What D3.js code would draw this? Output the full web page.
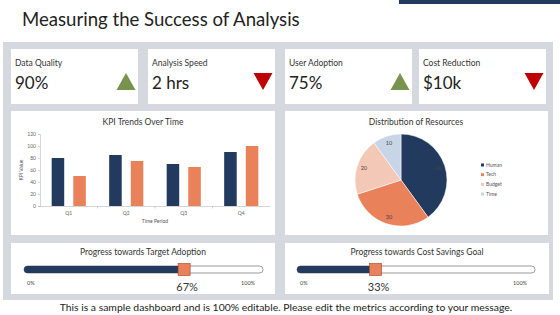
<!DOCTYPE html>
<html>
<head>
<meta charset="utf-8">
<script src="https://cdn.jsdelivr.net/npm/d3@7"></script>
<style>
  body { margin: 0; background: #fff; }
  text { font-family: "Lato", "DejaVu Sans", sans-serif; }
</style>
</head>
<body>
<div id="chart"></div>
<script>
const kpiNames = ["Data Quality", "Analysis Speed", "User Adoption", "Cost Reduction"];
const kpiValues = ["90%", "2 hrs", "75%", "$10k"];
const kpiTrend = ["up", "down", "up", "down"];

const quarters = ["Q1", "Q2", "Q3", "Q4"];
const seriesNames = ["Series 1", "Series 2"];
const series1 = [80, 85, 70, 90];
const series2 = [50, 75, 65, 100];
const yTicks = [0, 20, 40, 60, 80, 100, 120];

const resources = ["Human", "Tech", "Budget", "Time"];
const resourceShares = [40, 30, 20, 10];

const progressTitles = ["Progress towards Target Adoption", "Progress towards Cost Savings Goal"];
const progressValues = [67, 33];

const navy = "#223a5e";
const orange = "#e9825b";
const pieColors = [navy, orange, "#f4c8b6", "#c7d5e7"];

const width = 560, height = 315;
const svg = d3.select("#chart").append("svg")
    .attr("width", width)
    .attr("height", height);

// header
svg.append("rect").attr("x", 399).attr("y", 0).attr("width", 161).attr("height", 4).attr("fill", navy);
svg.append("text")
    .attr("x", 22).attr("y", 26)
    .attr("font-size", 18.6)
    .attr("fill", "#222")
    .text("Measuring the Success of Analysis");

// gray panel
svg.append("rect").attr("x", 3).attr("y", 42).attr("width", 550).attr("height", 258).attr("fill", "#d5d9df");

// KPI cards
const cardX = [11, 148, 285, 419];
const cardW = 127;
kpiNames.forEach((name, i) => {
    const g = svg.append("g").attr("transform", `translate(${cardX[i]},49)`);
    g.append("rect").attr("width", cardW).attr("height", 55).attr("fill", "#fff");
    g.append("text").attr("x", 4).attr("y", 17).attr("font-size", 8.5).attr("fill", "#333").text(name);
    g.append("text").attr("x", 4).attr("y", 40).attr("font-size", 17).attr("fill", "#222").text(kpiValues[i]);
    const cx = cardW - 12, top = 24, bot = 41, hw = 9.5;
    const pts = kpiTrend[i] === "up"
        ? [[cx, top], [cx + hw, bot], [cx - hw, bot]]
        : [[cx - hw, top], [cx + hw, top], [cx, bot]];
    g.append("path")
        .attr("d", d3.line()(pts) + "Z")
        .attr("fill", kpiTrend[i] === "up" ? "#77934d" : "#c00000");
});

// chart cards
svg.append("rect").attr("x", 11).attr("y", 111).attr("width", 264).attr("height", 124).attr("fill", "#fff");
svg.append("rect").attr("x", 285).attr("y", 111).attr("width", 263).attr("height", 124).attr("fill", "#fff");

// bar chart
const bar = svg.append("g");
bar.append("text").attr("x", 143).attr("y", 125).attr("text-anchor", "middle")
    .attr("font-size", 8.5).attr("fill", "#333").text("KPI Trends Over Time");

const x0 = d3.scaleBand().domain(quarters).range([40, 270]).padding(0);
const x1 = d3.scaleBand().domain(seriesNames).range([0, x0.bandwidth()]).paddingInner(0.42).paddingOuter(0.54);
const y = d3.scaleLinear().domain([0, 120]).range([206, 134]);

const yAxis = bar.append("g").attr("transform", "translate(40,0)")
    .call(d3.axisLeft(y).tickValues(yTicks).tickSize(2).tickPadding(2));
yAxis.selectAll("text").attr("font-size", 5).attr("fill", "#666");
yAxis.selectAll("line, path").attr("stroke", "#bbb").attr("stroke-width", 0.6);

const xAxis = bar.append("g").attr("transform", "translate(0,206)")
    .call(d3.axisBottom(x0).tickSize(0).tickPadding(5));
xAxis.selectAll("text").attr("font-size", 5).attr("fill", "#666");
xAxis.selectAll("path").attr("stroke", "#bbb").attr("stroke-width", 0.6);
bar.append("g").selectAll("line").data(quarters.slice(1))
    .join("line")
    .attr("x1", d => x0(d)).attr("x2", d => x0(d))
    .attr("y1", 206).attr("y2", 208.5)
    .attr("stroke", "#bbb").attr("stroke-width", 0.6);

const barData = quarters.map((q, i) => [
    { q, key: seriesNames[0], v: series1[i], c: navy },
    { q, key: seriesNames[1], v: series2[i], c: orange }
]);
bar.append("g").selectAll("g").data(barData).join("g")
    .attr("transform", d => `translate(${x0(d[0].q)},0)`)
    .selectAll("rect").data(d => d).join("rect")
    .attr("x", d => x1(d.key))
    .attr("width", x1.bandwidth())
    .attr("y", d => y(d.v))
    .attr("height", d => y(0) - y(d.v))
    .attr("fill", d => d.c);

bar.append("text").attr("transform", "translate(23,170) rotate(-90)")
    .attr("text-anchor", "middle").attr("font-size", 5).attr("fill", "#555").text("KPI Value");
bar.append("text").attr("x", 155).attr("y", 223)
    .attr("text-anchor", "middle").attr("font-size", 5).attr("fill", "#555").text("Time Period");

// pie chart
const pieG = svg.append("g");
pieG.append("text").attr("x", 416).attr("y", 125).attr("text-anchor", "middle")
    .attr("font-size", 8.5).attr("fill", "#333").text("Distribution of Resources");

const r = 46;
const pie = d3.pie().sort(null).value(d => d.v);
const arc = d3.arc().innerRadius(0).outerRadius(r);
const labelArc = d3.arc().innerRadius(r * 0.85).outerRadius(r * 0.85);
const slices = pie(resources.map((name, i) => ({ name, v: resourceShares[i] })));
const pg = pieG.append("g").attr("transform", "translate(401,180)");
pg.selectAll("path").data(slices).join("path")
    .attr("d", arc)
    .attr("fill", (d, i) => pieColors[i])
    .attr("stroke", "#fff").attr("stroke-width", 0.5);
pg.selectAll("text").data(slices).join("text")
    .attr("transform", d => `translate(${labelArc.centroid(d)})`)
    .attr("text-anchor", "middle").attr("dy", "0.35em")
    .attr("font-size", 5.5).attr("fill", "#444")
    .text(d => d.data.v);

const legend = pieG.append("g").attr("transform", "translate(481,0)");
const ly = d3.scalePoint().domain(resources).range([165, 194]);
resources.forEach((name, i) => {
    legend.append("rect").attr("x", 0).attr("y", ly(name) - 1.5).attr("width", 3).attr("height", 3).attr("fill", pieColors[i]);
    legend.append("text").attr("x", 5).attr("y", ly(name)).attr("dy", "0.35em")
        .attr("font-size", 5).attr("fill", "#555").text(name);
});

// progress cards
const progX = [11, 285];
const trackX = [[24, 263], [297, 535]];
progressTitles.forEach((title, i) => {
    const g = svg.append("g");
    g.append("rect").attr("x", progX[i]).attr("y", 243).attr("width", 264).attr("height", 51).attr("fill", "#fff");
    const cx = progX[i] + 132;
    g.append("text").attr("x", cx).attr("y", 255).attr("text-anchor", "middle")
        .attr("font-size", 8.5).attr("fill", "#333").text(title);
    const px = d3.scaleLinear().domain([0, 100]).range(trackX[i]);
    g.append("rect").attr("x", px(0)).attr("y", 266).attr("width", px(100) - px(0)).attr("height", 7)
        .attr("rx", 3.5).attr("fill", "#fff").attr("stroke", "#555").attr("stroke-width", 0.6);
    g.append("rect").attr("x", px(0)).attr("y", 266).attr("width", px(progressValues[i]) - px(0)).attr("height", 7)
        .attr("rx", 3.5).attr("fill", navy);
    g.append("rect").attr("x", px(progressValues[i]) - 6).attr("y", 263.5).attr("width", 12).attr("height", 12)
        .attr("fill", orange).attr("stroke", "#a8553a").attr("stroke-width", 0.7);
    g.append("text").attr("x", px(0) + 3).attr("y", 285).attr("font-size", 5.5).attr("fill", "#444").text("0%");
    g.append("text").attr("x", px(100) - 8).attr("y", 285).attr("text-anchor", "end").attr("font-size", 5.5).attr("fill", "#444").text("100%");
    g.append("text").attr("x", px(progressValues[i]) + 3).attr("y", 291).attr("text-anchor", "middle")
        .attr("font-size", 11).attr("fill", "#333").text(progressValues[i] + "%");
});

// footer
svg.append("text").attr("x", 286).attr("y", 311).attr("text-anchor", "middle")
    .attr("font-size", 10.4).attr("fill", "#222")
    .text("This is a sample dashboard and is 100% editable. Please edit the metrics according to your message.");
</script>
</body>
</html>
